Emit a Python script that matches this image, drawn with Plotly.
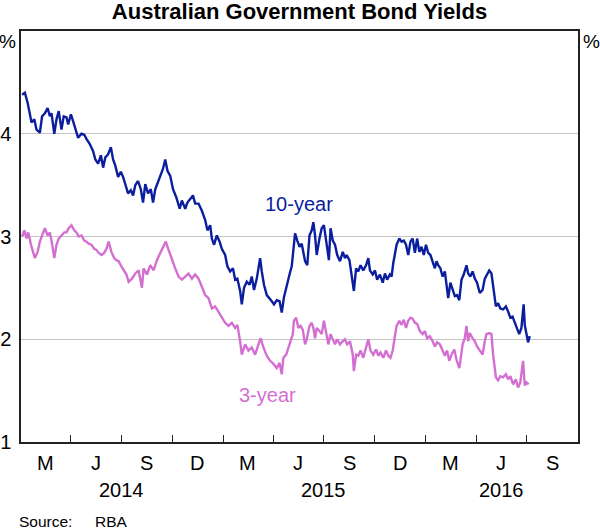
import pandas as pd
import plotly.graph_objects as go

# Days since 2014-01-01 and yields (%)
ten_days = [2, 7, 12, 16, 19, 24, 28, 34, 38, 43, 48, 52, 55, 60, 64, 68, 73, 77, 82, 85,
            90, 94, 98, 103, 109, 114, 118, 124, 130, 134, 139, 144, 148, 152, 157, 162, 166, 170, 175, 180,
            184, 188, 193, 198, 202, 206, 211, 216, 220, 224, 229, 234, 238, 242, 251, 256, 260, 264, 269, 274,
            280, 286, 290, 296, 300, 305, 310, 314, 320, 326, 332, 336, 341, 344, 348, 353, 358, 362, 368, 372,
            377, 382, 386, 390, 395, 398, 402, 407, 412, 416, 420, 425, 431, 434, 438, 443, 448, 452, 456, 461,
            466, 470, 474, 479, 484, 488, 491, 494, 498, 502, 506, 509, 512, 516, 520, 524, 527, 530, 533, 538,
            542, 546, 550, 552, 555, 558, 562, 566, 570, 575, 580, 584, 587, 592, 596, 600, 604, 608, 612, 617,
            622, 626, 629, 634, 638, 642, 647, 652, 656, 660, 665, 668, 671, 674, 677, 682, 686, 690, 694, 698,
            702, 706, 710, 714, 718, 722, 726, 730, 734, 738, 742, 746, 749, 752, 756, 760, 764, 767, 770, 774,
            778, 782, 786, 790, 794, 798, 803, 806, 810, 814, 818, 822, 827, 832, 836, 840, 844, 848, 851, 856,
            860, 864, 869, 874, 878, 882, 886, 890, 894, 898, 902, 906, 908, 911, 914, 917]
ten_year = [4.38, 4.40, 4.30, 4.20, 4.11, 4.14, 4.04, 4.01, 4.17, 4.20, 4.25, 4.17, 4.20, 4.00, 4.14, 4.22, 4.04, 4.17, 4.16, 4.09,
            4.19, 4.12, 4.04, 3.96, 4.00, 3.99, 3.95, 3.90, 3.83, 3.75, 3.71, 3.79, 3.67, 3.77, 3.80, 3.87, 3.75, 3.69, 3.58, 3.63,
            3.58, 3.50, 3.42, 3.45, 3.40, 3.50, 3.54, 3.46, 3.33, 3.51, 3.42, 3.46, 3.33, 3.46, 3.59, 3.66, 3.75, 3.64, 3.59, 3.46,
            3.38, 3.27, 3.35, 3.27, 3.33, 3.37, 3.40, 3.32, 3.32, 3.25, 3.16, 3.06, 3.11, 2.98, 2.92, 3.01, 2.95, 2.88, 2.82, 2.71,
            2.66, 2.69, 2.58, 2.59, 2.47, 2.34, 2.50, 2.56, 2.53, 2.61, 2.48, 2.59, 2.79, 2.66, 2.53, 2.43, 2.40, 2.37, 2.34, 2.38,
            2.37, 2.26, 2.41, 2.53, 2.63, 2.71, 2.88, 3.03, 2.96, 2.90, 2.93, 2.85, 2.76, 2.72, 3.01, 3.06, 3.14, 3.01, 2.82, 2.98,
            3.08, 3.11, 2.96, 2.88, 2.77, 3.08, 2.96, 2.92, 2.82, 2.76, 2.85, 2.79, 2.82, 2.77, 2.64, 2.47, 2.69, 2.66, 2.72, 2.67,
            2.72, 2.79, 2.67, 2.63, 2.67, 2.58, 2.63, 2.55, 2.64, 2.58, 2.63, 2.61, 2.74, 2.82, 2.92, 2.98, 2.95, 2.96, 2.92, 2.82,
            2.95, 2.98, 2.84, 2.98, 2.85, 2.90, 2.82, 2.92, 2.84, 2.82, 2.76, 2.69, 2.76, 2.72, 2.69, 2.61, 2.66, 2.53, 2.40, 2.55,
            2.48, 2.42, 2.43, 2.38, 2.58, 2.63, 2.72, 2.64, 2.61, 2.66, 2.59, 2.55, 2.45, 2.48, 2.59, 2.63, 2.67, 2.64, 2.50, 2.32,
            2.35, 2.30, 2.29, 2.32, 2.27, 2.21, 2.22, 2.16, 2.11, 2.05, 2.11, 2.34, 2.14, 2.05, 1.97, 2.03]

three_days = [2, 6, 10, 13, 18, 22, 25, 30, 34, 38, 43, 48, 52, 56, 60, 64, 68, 73, 78, 82,
              86, 91, 96, 100, 104, 109, 114, 118, 122, 127, 132, 136, 140, 145, 150, 154, 158, 163, 168, 172,
              176, 181, 186, 190, 194, 200, 206, 212, 218, 221, 227, 233, 239, 245, 251, 257, 261, 266, 272, 278,
              284, 290, 296, 302, 308, 314, 320, 326, 332, 338, 344, 350, 356, 362, 368, 374, 380, 386, 390, 395,
              398, 404, 410, 416, 422, 428, 432, 437, 443, 449, 455, 461, 466, 470, 473, 478, 482, 486, 490, 492,
              496, 500, 504, 508, 512, 515, 520, 524, 527, 530, 533, 538, 542, 546, 550, 554, 558, 562, 566, 570,
              575, 580, 584, 588, 593, 598, 600, 604, 608, 612, 617, 622, 626, 630, 635, 640, 644, 648, 653, 658,
              662, 666, 670, 674, 677, 682, 686, 690, 694, 698, 702, 706, 710, 714, 719, 724, 728, 732, 737, 742,
              746, 750, 755, 760, 764, 768, 772, 776, 781, 785, 790, 792, 796, 800, 803, 806, 809, 814, 818, 822,
              827, 832, 836, 839, 844, 848, 851, 856, 860, 864, 869, 874, 878, 882, 887, 892, 896, 900, 905, 908,
              911, 915]
three_year = [3.00, 3.06, 2.98, 3.04, 2.92, 2.85, 2.79, 2.85, 2.95, 3.01, 3.08, 3.01, 3.04, 2.93, 2.79, 2.92, 2.98, 3.01, 3.04, 3.04,
              3.08, 3.11, 3.06, 3.04, 3.00, 3.01, 2.96, 2.95, 2.93, 2.92, 2.88, 2.87, 2.84, 2.82, 2.84, 2.88, 2.95, 2.85, 2.79, 2.77,
              2.76, 2.71, 2.66, 2.63, 2.56, 2.59, 2.64, 2.67, 2.50, 2.69, 2.63, 2.72, 2.67, 2.77, 2.84, 2.90, 2.95, 2.87, 2.77, 2.69,
              2.61, 2.58, 2.61, 2.64, 2.59, 2.63, 2.59, 2.51, 2.43, 2.40, 2.30, 2.32, 2.27, 2.21, 2.16, 2.13, 2.16, 2.11, 2.14, 1.98,
              1.85, 1.95, 1.89, 1.92, 1.85, 1.95, 2.01, 1.92, 1.84, 1.79, 1.76, 1.72, 1.77, 1.66, 1.82, 1.85, 1.92, 1.97, 2.05, 2.18,
              2.21, 2.11, 2.13, 2.09, 1.95, 2.00, 2.13, 2.16, 2.11, 2.01, 2.11, 2.08, 2.05, 2.18, 2.05, 1.95, 2.05, 2.00, 1.95, 2.00,
              1.95, 1.98, 2.00, 1.95, 1.98, 1.85, 1.69, 1.85, 1.84, 1.89, 1.82, 1.92, 2.00, 1.89, 1.85, 1.90, 1.84, 1.87, 1.82, 1.89,
              1.84, 1.82, 1.89, 2.03, 2.13, 2.18, 2.14, 2.19, 2.11, 2.18, 2.21, 2.20, 2.16, 2.15, 2.08, 2.05, 2.08, 2.01, 2.03, 1.98,
              1.93, 1.97, 1.95, 1.89, 1.84, 1.89, 1.79, 1.85, 1.90, 1.80, 1.72, 1.79, 1.95, 2.01, 2.13, 1.98, 2.06, 2.01, 1.98, 1.93,
              1.89, 1.85, 1.98, 2.05, 2.06, 2.05, 1.85, 1.63, 1.60, 1.64, 1.63, 1.66, 1.61, 1.64, 1.56, 1.61, 1.53, 1.58, 1.79, 1.55,
              1.58, 1.56]

quarter_ticks = ["2014-04-01", "2014-07-01", "2014-10-01", "2015-01-01", "2015-04-01", "2015-07-01",
                 "2015-10-01", "2016-01-01", "2016-04-01", "2016-07-01"]
month_label_dates = ["2014-02-14", "2014-05-16", "2014-08-16", "2014-11-15", "2015-02-14", "2015-05-16",
                     "2015-08-16", "2015-11-15", "2016-02-14", "2016-05-16", "2016-08-16"]
month_labels = ["M", "J", "S", "D", "M", "J", "S", "D", "M", "J", "S"]
year_label_dates = ["2014-07-01", "2015-07-01", "2016-05-16"]
year_labels = ["2014", "2015", "2016"]
y_ticks = [1, 2, 3, 4]

BLUE = "#0a1e9e"
PINK = "#d46fd2"
FONT = "Arial, Liberation Sans, sans-serif"

start = pd.Timestamp("2014-01-01")
ten_dates = start + pd.to_timedelta(ten_days, unit="D")
three_dates = start + pd.to_timedelta(three_days, unit="D")

fig = go.Figure()
fig.add_trace(go.Scatter(x=ten_dates, y=ten_year, mode="lines", name="10-year",
                         line=dict(color=BLUE, width=2.4)))
fig.add_trace(go.Scatter(x=three_dates, y=three_year, mode="lines", name="3-year",
                         line=dict(color=PINK, width=2.4)))

fig.update_layout(
    width=600, height=529,
    margin=dict(l=21, r=22, t=31, b=87, autoexpand=False),
    paper_bgcolor="white", plot_bgcolor="white",
    showlegend=False,
    font=dict(family=FONT, size=20, color="black"),
    title=dict(text="<b>Australian Government Bond Yields</b>", x=0.5, xref="paper",
               y=0.978, yref="container", yanchor="middle", automargin=False,
               font=dict(family=FONT, size=22, color="black")),
    xaxis=dict(range=["2014-01-01", "2016-10-01"], tickmode="array", tickvals=quarter_ticks,
               showticklabels=False, ticks="inside", ticklen=7, tickcolor="#222", tickwidth=1,
               showgrid=False, showline=True, mirror=True, linecolor="#222", linewidth=1.5,
               zeroline=False, automargin=False),
    yaxis=dict(range=[1, 5], tickmode="array", tickvals=y_ticks, ticks="", ticklabelstandoff=4,
               showgrid=True, gridcolor="#c4c4c4", gridwidth=1, showline=True, mirror=True,
               linecolor="#222", linewidth=1.5, zeroline=False, automargin=False,
               tickfont=dict(family=FONT, size=20)),
    yaxis2=dict(range=[1, 5], tickmode="array", tickvals=y_ticks, overlaying="y", side="right",
                ticks="", ticklabelstandoff=4, showgrid=False, zeroline=False, automargin=False,
                tickfont=dict(family=FONT, size=20)),
)

annotations = []
for d, t in zip(month_label_dates, month_labels):
    annotations.append(dict(x=d, xref="x", y=0, yref="paper", yshift=-21, text=t, showarrow=False,
                            xanchor="center", yanchor="middle", font=dict(family=FONT, size=20)))
for d, t in zip(year_label_dates, year_labels):
    annotations.append(dict(x=d, xref="x", y=0, yref="paper", yshift=-48, text=t, showarrow=False,
                            xanchor="center", yanchor="middle", font=dict(family=FONT, size=20)))
annotations += [
    dict(x=0, xref="paper", y=1, yref="paper", yshift=-10, xshift=-3, text="%", showarrow=False,
         xanchor="right", yanchor="middle", font=dict(family=FONT, size=19)),
    dict(x=1, xref="paper", y=1, yref="paper", yshift=-10, xshift=3, text="%", showarrow=False,
         xanchor="left", yanchor="middle", font=dict(family=FONT, size=19)),
    dict(x=0, xref="paper", y=0, yref="paper", yshift=-79, xshift=-4, text="Source:", showarrow=False,
         xanchor="left", yanchor="middle", font=dict(family=FONT, size=15.5)),
    dict(x=0, xref="paper", y=0, yref="paper", yshift=-79, xshift=72, text="RBA", showarrow=False,
         xanchor="left", yanchor="middle", font=dict(family=FONT, size=15.5)),
    dict(x="2015-05-17", xref="x", y=3.316, yref="y", text="10-year", showarrow=False,
         font=dict(family=FONT, size=20, color=BLUE)),
    dict(x="2015-03-22", xref="x", y=1.457, yref="y", text="3-year", showarrow=False,
         font=dict(family=FONT, size=20, color=PINK)),
]
fig.update_layout(annotations=annotations)

fig.write_html("out.html", config={"displayModeBar": False},
               post_script="document.body.style.margin='0px';")
